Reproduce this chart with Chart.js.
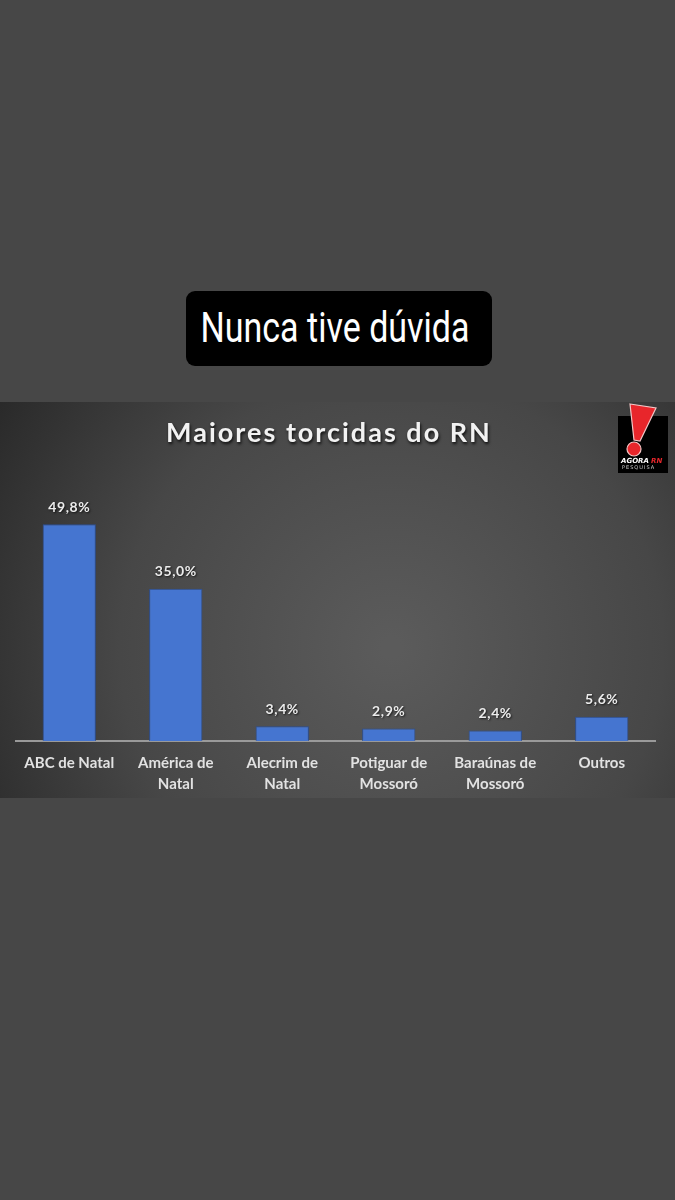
<!DOCTYPE html>
<html>
<head>
<meta charset="utf-8">
<script src="https://cdn.jsdelivr.net/npm/chart.js@4.4.0/dist/chart.umd.min.js"></script>
<style>
  html,body{margin:0;padding:0;background:#474747;width:675px;height:1200px;overflow:hidden;}
  #caption{position:absolute;left:186px;top:291px;width:306px;height:75px;background:#000;border-radius:9px;}
  #caption span{position:absolute;left:calc(50% - 4px);top:0;line-height:73px;color:#fff;
    font-family:Roboto,"Liberation Sans",sans-serif;font-size:42px;white-space:nowrap;
    transform:translateX(-50%) scaleX(0.81);transform-origin:center;}
  #wrap{position:absolute;left:0;top:402px;width:675px;height:396px;}
</style>
</head>
<body>
<div id="caption"><span>Nunca tive dúvida</span></div>
<div id="wrap"><canvas id="c" width="675" height="396"></canvas></div>
<script>
const categories = [["ABC de Natal"], ["América de","Natal"], ["Alecrim de","Natal"], ["Potiguar de","Mossoró"], ["Baraúnas de","Mossoró"], ["Outros"]];
const values = [49.8, 35.0, 3.4, 2.9, 2.4, 5.6];
const valueLabels = ["49,8%", "35,0%", "3,4%", "2,9%", "2,4%", "5,6%"];
const chartTitle = "Maiores torcidas do RN";

const bgPlugin = {
  id: 'bg',
  beforeDraw(chart) {
    const ctx = chart.ctx, w = chart.width, h = chart.height;
    ctx.save();
    const g = ctx.createRadialGradient(w*0.58, h*0.62, 10, w*0.58, h*0.62, w*0.72);
    g.addColorStop(0, '#5b5b5b');
    g.addColorStop(0.55, '#474747');
    g.addColorStop(1, '#262626');
    ctx.fillStyle = g;
    ctx.fillRect(0, 0, w, h);
    ctx.restore();
  }
};

const overlayPlugin = {
  id: 'overlay',
  afterDatasetsDraw(chart) {
    const ctx = chart.ctx;
    const meta = chart.getDatasetMeta(0);
    ctx.save();
    ctx.font = 'bold 14px Lato, "Open Sans", sans-serif';
    if ('letterSpacing' in ctx) ctx.letterSpacing = '0.6px';
    ctx.textAlign = 'center';
    ctx.textBaseline = 'middle';
    ctx.shadowColor = 'rgba(0,0,0,0.7)';
    ctx.shadowBlur = 2; ctx.shadowOffsetX = 1; ctx.shadowOffsetY = 1;
    ctx.fillStyle = '#ececec';
    meta.data.forEach((bar, i) => {
      ctx.fillText(valueLabels[i], bar.x, bar.y - 17);
    });
    // title
    ctx.font = 'bold 27px Lato, "Open Sans", sans-serif';
    if ('letterSpacing' in ctx) ctx.letterSpacing = '2px';
    ctx.fillStyle = '#f2f2f2';
    ctx.shadowColor = 'rgba(0,0,0,0.8)';
    ctx.shadowBlur = 3; ctx.shadowOffsetX = 1; ctx.shadowOffsetY = 2;
    ctx.fillText(chartTitle, 329, 31);
    ctx.restore();

    // logo
    ctx.save();
    ctx.fillStyle = '#000';
    ctx.fillRect(618, 14, 50, 57);
    ctx.beginPath();
    ctx.moveTo(630, 2); ctx.lineTo(656, 6); ctx.lineTo(640, 39); ctx.lineTo(634, 38); ctx.closePath();
    ctx.fillStyle = '#e8262b'; ctx.fill();
    ctx.strokeStyle = '#f3c6c6'; ctx.lineWidth = 1.2; ctx.stroke();
    ctx.beginPath(); ctx.arc(634, 47, 7, 0, Math.PI*2);
    ctx.fillStyle = '#e8262b'; ctx.fill(); ctx.stroke();
    ctx.textAlign = 'left'; ctx.textBaseline = 'middle';
    ctx.font = 'bold italic 7px "DejaVu Sans", sans-serif';
    ctx.fillStyle = '#fff'; ctx.fillText('AGORA', 621, 59);
    ctx.fillStyle = '#e8262b'; ctx.fillText('RN', 651, 59);
    ctx.font = '5px "DejaVu Sans", sans-serif';
    ctx.fillStyle = '#cfcfcf';
    if ('letterSpacing' in ctx) ctx.letterSpacing = '1px';
    ctx.fillText('PESQUISA', 622, 66);
    ctx.restore();
  }
};

new Chart(document.getElementById('c'), {
  type: 'bar',
  data: {
    labels: categories,
    datasets: [{
      data: values,
      backgroundColor: '#4575d0',
      borderColor: '#2b4f96',
      borderWidth: 1,
      barPercentage: 0.5,
      categoryPercentage: 1
    }]
  },
  options: {
    responsive: false,
    animation: false,
    events: [],
    layout: { padding: { top: 78, left: 16, right: 20, bottom: 1 } },
    plugins: { legend: { display: false }, tooltip: { enabled: false }, title: { display: false } },
    scales: {
      y: { display: false, min: 0, max: 60 },
      x: {
        afterFit(scale) { scale.height = 56; },
        grid: { display: false, drawTicks: false },
        border: { display: true, color: '#9a9a9a', width: 2 },
        ticks: {
          color: '#e2e2e2',
          padding: 12,
          maxRotation: 0,
          autoSkip: false,
          font: { family: 'Lato, "Open Sans", sans-serif', size: 15, weight: 'bold', lineHeight: 1.4 }
        }
      }
    }
  },
  plugins: [bgPlugin, overlayPlugin]
});
</script>
</body>
</html>
